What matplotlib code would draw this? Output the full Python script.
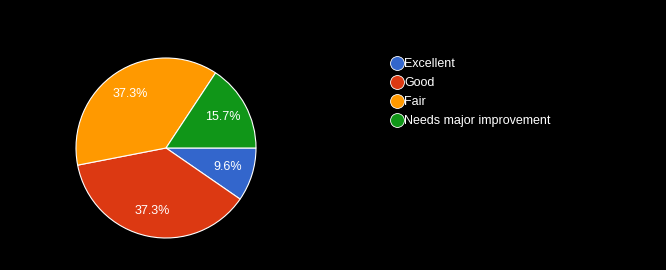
import numpy as np
import matplotlib.pyplot as plt
from matplotlib.lines import Line2D

labels = ['Excellent', 'Good', 'Fair', 'Needs major improvement']
values = [9.6, 37.3, 37.3, 15.7]
colors = ['#3366cc', '#dc3912', '#ff9900', '#109618']

fig = plt.figure(figsize=(6.66, 2.70), dpi=100, facecolor='black')
ax = fig.add_axes([76 / 666, 32 / 270, 180 / 666, 180 / 270])
ax.set_facecolor('black')

wedges, texts, autotexts = ax.pie(
    values, colors=colors, startangle=0, counterclock=False,
    autopct='%.1f%%', pctdistance=0.72, radius=1.0,
    wedgeprops=dict(edgecolor='white', linewidth=0.8),
    textprops=dict(color='white', fontsize=9, family='Liberation Sans'),
)
ax.set_xlim(-1, 1)
ax.set_ylim(-1, 1)
ax.set_aspect('equal')

handles = [
    Line2D([0], [0], ls='none', marker='o', ms=10, mfc=c, mec='white', mew=0.6)
    for c in colors
]
fig.legend(handles, labels, loc='upper left', bbox_to_anchor=(378 / 666, 1 - 47 / 270),
           frameon=False, handletextpad=0.0, labelspacing=0.55, handlelength=1.2,
           prop=dict(size=9, family='Liberation Sans'), labelcolor='white')

fig.savefig('out.png', dpi=100, facecolor='black')
